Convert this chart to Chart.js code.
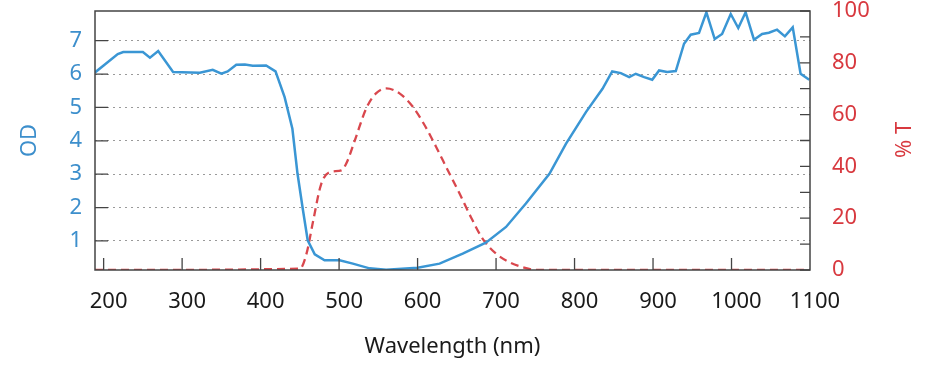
<!DOCTYPE html>
<html>
<head>
<meta charset="utf-8">
<script src="https://cdn.jsdelivr.net/npm/chart.js@4/dist/chart.umd.min.js"></script>
<style>
  html, body { margin: 0; padding: 0; background: #fff; }
  #wrap { width: 926px; height: 368px; }
</style>
</head>
<body>
<div id="wrap"><canvas id="chart" width="926" height="368"></canvas></div>
<script>
// ── Data ─────────────────────────────────────────────────────
const odWavelength = [189, 218, 225, 250, 259, 269.5, 288.5, 322.5, 339, 350, 358, 369, 380, 390, 407, 419,
  430.6, 440.5, 447, 454, 460, 469, 481.5, 500.6, 517.5, 538.8, 560, 600, 628, 657.5, 687, 712.7,
  738, 768, 789, 814.5, 835.6, 848, 859, 869.6, 878, 888.7, 899, 907.7, 918, 929, 939.5, 948,
  958.6, 968, 978.6, 988, 999, 1008.6, 1018, 1028.6, 1039, 1047.6, 1058, 1068, 1078, 1088, 1099];
const odValues = [6.05, 6.6, 6.66, 6.66, 6.49, 6.69, 6.06, 6.04, 6.13, 6.01, 6.08, 6.28, 6.29, 6.25, 6.26, 6.08,
  5.31, 4.36, 3.02, 1.92, 1.02, 0.6, 0.42, 0.42, 0.32, 0.18, 0.14, 0.2, 0.32, 0.62, 0.95, 1.42,
  2.12, 3.01, 3.91, 4.86, 5.56, 6.08, 6.03, 5.91, 6.01, 5.91, 5.83, 6.11, 6.06, 6.09, 6.91, 7.18,
  7.23, 7.85, 7.05, 7.2, 7.8, 7.38, 7.85, 7.03, 7.2, 7.24, 7.33, 7.13, 7.4, 6.01, 5.83];

const tWavelength = [189, 450, 458.5, 467, 477, 488, 503, 509, 520, 534.6, 547, 560, 577, 594, 609, 623.7,
  638.5, 653.5, 668, 683, 700, 717, 734, 752, 1100];
const tValues = [0, 0.5, 6.3, 19, 33, 37.8, 38.5, 41, 50, 62.4, 68.2, 70.1, 68.2, 63, 55.9, 47.5,
  38.5, 29.5, 20.4, 12, 6.3, 3, 1.1, 0, 0];

const xTicks  = [200, 300, 400, 500, 600, 700, 800, 900, 1000, 1100];
const odTicks = [1, 2, 3, 4, 5, 6, 7];
const tTicks  = [0, 20, 40, 60, 80, 100];
const tMinor  = [10, 30, 50, 70, 90];

// ── Palette ──────────────────────────────────────────────────
const COLORS = {
  blue:     '#3a96d4',
  blueText: '#3d8fcc',
  red:      '#d9474d',
  redText:  '#d8393f',
  frame:    '#444444',
  grid:     '#9a9a9a',
  text:     '#1a1a1a',
};
const FONT = 'Noto Sans';

// fixed box size, no extra room for overhanging labels
function fixSize(key, size) {
  return s => {
    s[key] = size;
    s.paddingTop = 0; s.paddingBottom = 0; s.paddingLeft = 0; s.paddingRight = 0;
  };
}

// frame, inward ticks and right-hand title
const framePlugin = {
  id: 'frame',
  afterDraw(chart) {
    const { ctx, chartArea: a, scales } = chart;
    ctx.save();
    ctx.strokeStyle = COLORS.frame;
    ctx.lineWidth = 1.5;
    ctx.strokeRect(a.left, a.top, a.right - a.left, a.bottom - a.top);

    ctx.lineWidth = 1.3;
    ctx.beginPath();
    xTicks.slice(0, -1).forEach(v => {
      const x = scales.x.getPixelForValue(v);
      ctx.moveTo(x, a.bottom); ctx.lineTo(x, a.bottom - 12);
    });
    odTicks.forEach(v => {
      const y = scales.y.getPixelForValue(v);
      ctx.moveTo(a.left, y); ctx.lineTo(a.left + 13, y);
    });
    tTicks.concat(tMinor).forEach(v => {
      const y = scales.y2.getPixelForValue(v);
      ctx.moveTo(a.right, y); ctx.lineTo(a.right - 10, y);
    });
    ctx.stroke();

    ctx.fillStyle = COLORS.redText;
    ctx.font = `22px "${FONT}"`;
    ctx.textAlign = 'center';
    ctx.textBaseline = 'middle';
    ctx.translate(905, 140);
    ctx.rotate(-Math.PI / 2);
    ctx.fillText('% T', 0, 0);
    ctx.restore();
  }
};

new Chart(document.getElementById('chart'), {
  type: 'line',
  data: {
    datasets: [
      {
        label: 'OD',
        data: odWavelength.map((x, i) => ({ x, y: odValues[i] })),
        yAxisID: 'y',
        borderColor: COLORS.blue,
        borderWidth: 2.5,
        pointRadius: 0,
        tension: 0,
      },
      {
        label: '% T',
        data: tWavelength.map((x, i) => ({ x, y: tValues[i] })),
        yAxisID: 'y2',
        borderColor: COLORS.red,
        borderWidth: 2.3,
        borderDash: [8, 5],
        pointRadius: 0,
        cubicInterpolationMode: 'monotone',
      }
    ]
  },
  options: {
    responsive: false,
    animation: false,
    layout: { padding: { top: 11, bottom: 0, left: 0, right: 0 } },
    plugins: { legend: { display: false }, tooltip: { enabled: false } },
    scales: {
      x: {
        type: 'linear',
        min: 189, max: 1100,
        afterBuildTicks: s => { s.ticks = xTicks.map(value => ({ value })); },
        afterFit: fixSize('height', 98),
        grid: { display: false, drawTicks: false },
        border: { display: false },
        ticks: { color: COLORS.text, font: { family: FONT, size: 22 }, padding: 19, labelOffset: 5, maxRotation: 0,
                 callback: v => String(v) },
        title: { display: true, text: 'Wavelength (nm)', color: COLORS.text, font: { family: FONT, size: 22 }, padding: { top: 0, bottom: 8 } },
      },
      y: {
        position: 'left',
        min: 0.13, max: 7.89,
        afterBuildTicks: s => { s.ticks = odTicks.map(value => ({ value })); },
        afterFit: fixSize('width', 95),
        grid: { color: COLORS.grid, lineWidth: 1, drawTicks: false },
        border: { display: false, dash: [2, 4] },
        ticks: { color: COLORS.blueText, font: { family: FONT, size: 22 }, padding: 13 },
        title: { display: true, text: 'OD', color: COLORS.blueText, font: { family: FONT, size: 22 }, padding: { top: 17, bottom: 0 } },
      },
      y2: {
        position: 'right',
        min: 0, max: 100,
        afterBuildTicks: s => { s.ticks = tTicks.map(value => ({ value })); },
        afterFit: fixSize('width', 116),
        grid: { display: false, drawTicks: false },
        border: { display: false },
        ticks: { color: COLORS.redText, font: { family: FONT, size: 22 }, padding: 22 },
      }
    }
  },
  plugins: [framePlugin]
});
</script>
</body>
</html>
